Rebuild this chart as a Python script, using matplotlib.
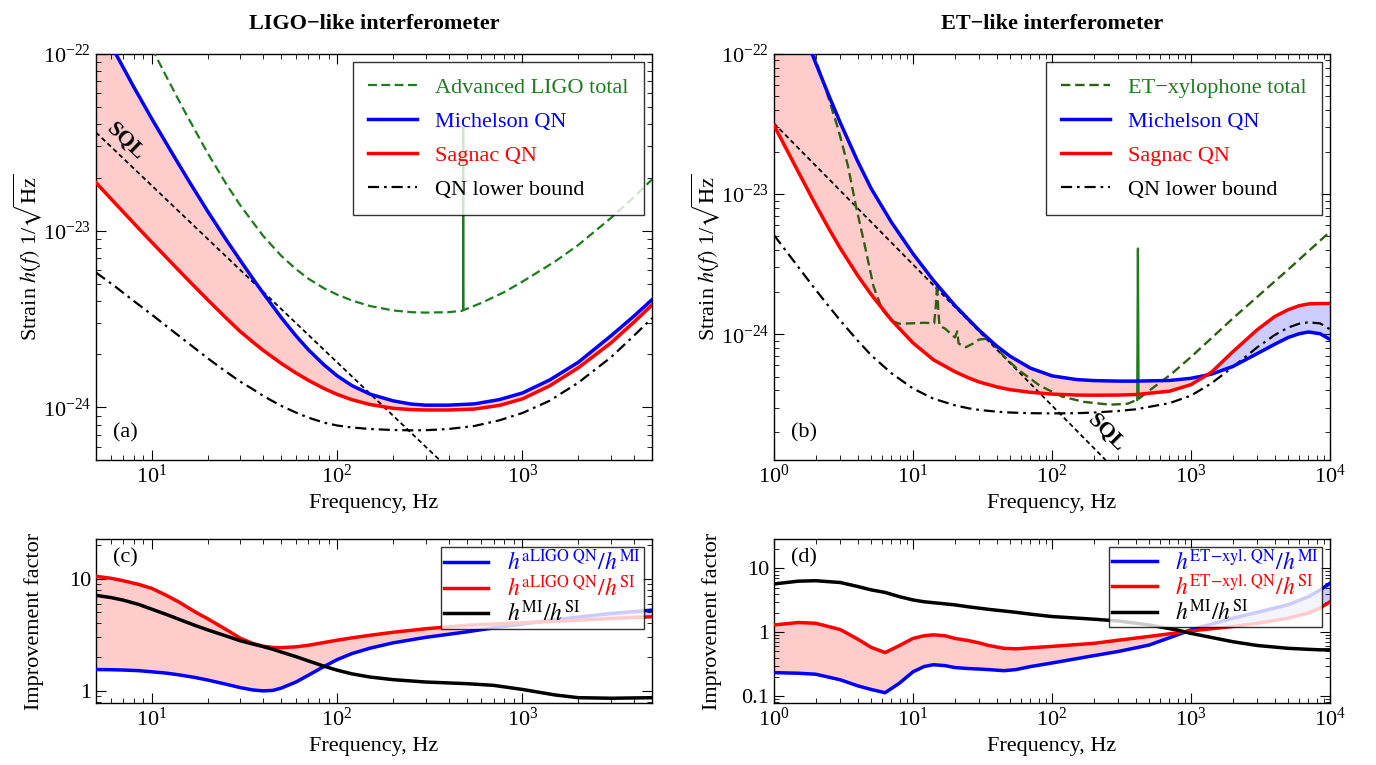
import numpy as np
import matplotlib
matplotlib.use('Agg')
import matplotlib.pyplot as plt
from matplotlib.ticker import LogLocator, NullFormatter, FixedLocator, FixedFormatter

plt.rcParams['font.family'] = ['Liberation Serif', 'DejaVu Serif']
plt.rcParams['mathtext.fontset'] = 'stix'
plt.rcParams['font.size'] = 16

# ---------------- Panel (a): LIGO-like ----------------
freq_a = [5, 6.4, 8, 10, 13, 16, 20, 25, 30, 35, 40, 50, 60, 70, 85, 100, 120, 150, 200, 250,
          300, 400, 550, 750, 1000, 1400, 2000, 3000, 4000, 5000]
mich_a = [1.56e-22, 1.0e-22, 6.5e-23, 4.3e-23, 2.7e-23, 1.88e-23, 1.29e-23, 9.0e-24, 6.8e-24,
          5.38e-24, 4.42e-24, 3.22e-24, 2.54e-24, 2.12e-24, 1.74e-24, 1.51e-24, 1.33e-24,
          1.19e-24, 1.09e-24, 1.045e-24, 1.03e-24, 1.03e-24, 1.047e-24, 1.107e-24, 1.207e-24,
          1.428e-24, 1.80e-24, 2.54e-24, 3.29e-24, 4.07e-24]
sagn_a = [1.87e-23, 1.415e-23, 1.102e-23, 8.6e-24, 6.46e-24, 5.16e-24, 4.07e-24, 3.23e-24,
          2.69e-24, 2.35e-24, 2.10e-24, 1.772e-24, 1.565e-24, 1.423e-24, 1.279e-24, 1.185e-24,
          1.106e-24, 1.039e-24, 0.989e-24, 0.972e-24, 0.967e-24, 0.967e-24, 0.979e-24,
          1.026e-24, 1.118e-24, 1.323e-24, 1.674e-24, 2.315e-24, 3.04e-24, 3.8e-24]
bound_a = [5.8e-24, 4.8e-24, 4.0e-24, 3.35e-24, 2.7e-24, 2.28e-24, 1.9e-24, 1.6e-24, 1.4e-24,
           1.27e-24, 1.16e-24, 1.02e-24, 9.35e-25, 8.75e-25, 8.2e-25, 7.9e-25, 7.7e-25, 7.55e-25,
           7.45e-25, 7.42e-25, 7.43e-25, 7.55e-25, 7.85e-25, 8.45e-25, 9.3e-25, 1.09e-24,
           1.38e-24, 1.92e-24, 2.55e-24, 3.2e-24]
aligo_f = [10, 12, 15, 20, 25, 30, 40, 50, 60, 70, 85, 100, 120, 150, 200, 250, 300, 400, 470,
           600, 800, 1000, 1500, 2000, 3000, 4000, 5000]
aligo_h = [1.08e-22, 7.43e-23, 4.76e-23, 2.755e-23, 1.865e-23, 1.393e-23, 9.31e-24, 7.2e-24,
           6.06e-24, 5.35e-24, 4.72e-24, 4.35e-24, 4.03e-24, 3.75e-24, 3.54e-24, 3.46e-24,
           3.44e-24, 3.46e-24, 3.52e-24, 3.9e-24, 4.5e-24, 5.15e-24, 6.7e-24, 8.3e-24, 1.18e-23,
           1.55e-23, 1.95e-23]
aligo_spike_f = [478, 480, 482]
aligo_spike_h = [3.55e-24, 3.9e-23, 3.6e-24]
sql_a_f = [5, 360]
sql_a_h = [3.6e-23, 5.0e-25]

# ---------------- Panel (b): ET-like ----------------
freq_b = [1, 1.5, 1.88, 2, 2.5, 3, 4, 5, 7, 10, 14, 20, 25, 30, 40, 50, 70, 100, 150, 200, 300,
          400, 700, 1000, 1400, 2000, 3000, 4000, 5000, 6000, 7000, 8500, 10000]
mich_b = [4.3e-22, 1.7e-22, 1.0e-22, 8.57e-23, 4.96e-23, 3.23e-23, 1.716e-23, 1.098e-23, 6.3e-24,
          3.76e-24, 2.43e-24, 1.61e-24, 1.282e-24, 1.068e-24, 8.25e-25, 6.98e-25, 5.74e-25,
          5.06e-25, 4.76e-25, 4.68e-25, 4.64e-25, 4.64e-25, 4.69e-25, 4.86e-25, 5.2e-25,
          5.9e-25, 7.3e-25, 8.5e-25, 9.5e-25, 1.01e-24, 1.04e-24, 1.01e-24, 9.2e-25]
sagn_b = [3.1e-23, 1.434e-23, 9.38e-24, 8.37e-24, 5.6e-24, 4.11e-24, 2.63e-24, 1.926e-24,
          1.264e-24, 8.69e-25, 6.59e-25, 5.42e-25, 4.9e-25, 4.57e-25, 4.22e-25, 4.03e-25,
          3.86e-25, 3.75e-25, 3.69e-25, 3.68e-25, 3.69e-25, 3.72e-25, 3.93e-25, 4.38e-25,
          5.36e-25, 7.52e-25, 1.08e-24, 1.34e-24, 1.5e-24, 1.6e-24, 1.65e-24, 1.66e-24, 1.66e-24]
bound_b = [5.1e-24, 3.01e-24, 2.244e-24, 2.073e-24, 1.568e-24, 1.255e-24, 9.02e-25, 7.1e-25,
           5.28e-25, 4.11e-25, 3.48e-25, 3.12e-25, 2.97e-25, 2.89e-25, 2.81e-25, 2.77e-25,
           2.74e-25, 2.73e-25, 2.74e-25, 2.77e-25, 2.84e-25, 2.92e-25, 3.23e-25, 3.66e-25,
           4.47e-25, 5.85e-25, 8.09e-25, 9.89e-25, 1.118e-24, 1.192e-24, 1.22e-24, 1.197e-24,
           1.086e-24]
et_f = [1.9, 2.4, 2.9, 3.4, 3.9, 4.5, 5.2, 6.0, 7.0, 8, 10, 12, 14.2, 14.6, 14.9, 15.2, 15.5,
        17, 20, 20.8, 21.3, 24, 27, 30, 34, 38, 45, 57, 82, 118, 169, 262, 350, 405, 425, 540,
        720, 1000, 2000, 5000, 10000]
et_h = [1.05e-22, 5.3e-23, 2.9e-23, 1.6e-23, 8.1e-24, 4.3e-24, 2.2e-24, 1.5e-24, 1.25e-24,
        1.19e-24, 1.2e-24, 1.21e-24, 1.2e-24, 1.6e-24, 2.3e-24, 1.5e-24, 1.15e-24, 1.1e-24,
        9.5e-25, 1.05e-24, 8.6e-25, 8.1e-25, 8.6e-25, 9.2e-25, 9.3e-25, 8.5e-25, 7.0e-25, 5.6e-25,
        4.3e-25, 3.6e-25, 3.3e-25, 3.15e-25, 3.2e-25, 3.4e-25, 3.5e-25, 4.2e-25, 5.2e-25, 6.9e-25,
        1.3e-24, 2.9e-24, 5.4e-24]
et_spike_f = [410, 415, 420]
et_spike_h = [3.4e-25, 4.1e-24, 3.5e-25]
sql_b_f = [1, 243]
sql_b_h = [3.2e-23, 1.27e-25]

# ---------------- Panel (c) ----------------
freq_c = [5, 6, 7, 8.5, 10, 12, 14, 17, 20, 25, 30, 35, 40, 45, 50, 60, 70, 85, 100, 120, 150,
          200, 300, 500, 700, 1000, 1500, 2000, 3000, 5000]
ratio_mi_c = [1.55, 1.545, 1.535, 1.515, 1.48, 1.44, 1.39, 1.32, 1.25, 1.15, 1.07, 1.02, 1.0,
              1.01, 1.06, 1.2, 1.38, 1.65, 1.9, 2.15, 2.4, 2.68, 3.0, 3.36, 3.65, 3.95, 4.3,
              4.55, 4.9, 5.25]
ratio_si_c = [10.5, 10.1, 9.6, 8.9, 8.2, 7.1, 6.2, 5.1, 4.4, 3.55, 2.95, 2.65, 2.5, 2.44, 2.43,
              2.47, 2.55, 2.7, 2.83, 2.97, 3.13, 3.33, 3.58, 3.84, 3.95, 4.05, 4.17, 4.27, 4.42,
              4.58]
ratio_misi_c = [7.1, 6.8, 6.45, 5.9, 5.35, 4.8, 4.35, 3.85, 3.5, 3.1, 2.8, 2.62, 2.48, 2.35,
                2.22, 2.02, 1.85, 1.66, 1.53, 1.42, 1.33, 1.26, 1.2, 1.16, 1.12, 1.03, 0.92,
                0.87, 0.86, 0.87]

# ---------------- Panel (d) ----------------
freq_d = [1, 1.5, 2, 3, 4, 5, 6.3, 8, 10, 12, 14, 17, 20, 25, 30, 35, 45, 55, 70, 100, 200,
          300, 500, 800, 1000, 2000, 3000, 5000, 7000, 8500, 10000]
ratio_mi_d = [0.233, 0.228, 0.22, 0.18, 0.145, 0.127, 0.113, 0.16, 0.24, 0.29, 0.31, 0.30, 0.28,
              0.27, 0.265, 0.26, 0.25, 0.26, 0.29, 0.33, 0.43, 0.5, 0.63, 0.91, 1.09, 1.66, 2.05,
              2.7, 3.6, 4.6, 5.85]
ratio_si_d = [1.30, 1.42, 1.38, 1.1, 0.78, 0.58, 0.48, 0.62, 0.8, 0.88, 0.91, 0.88, 0.8, 0.74,
              0.68, 0.62, 0.56, 0.55, 0.57, 0.6, 0.67, 0.75, 0.86, 0.98, 1.05, 1.23, 1.38, 1.66,
              2.0, 2.4, 3.0]
ratio_misi_d = [5.7, 6.3, 6.4, 6.0, 5.2, 4.6, 4.2, 3.6, 3.2, 3.0, 2.9, 2.78, 2.68, 2.5, 2.38,
                2.28, 2.15, 2.05, 1.92, 1.76, 1.6, 1.5, 1.3, 1.08, 0.96, 0.71, 0.62, 0.56, 0.54,
                0.53, 0.53]

MINUS = '\u2212'
BLUE = '#0000ff'
RED = '#ff0000'
GREEN = '#1e7b1e'
GREEN_ET = '#2f5f12'
PINK = '#ffcccc'
LAV = '#ccccff'

W, H = 1376, 765
fig = plt.figure(figsize=(W / 100, H / 100), dpi=100)


def ax_at(x0, y0, x1, y1):
    return fig.add_axes([x0 / W, 1 - y1 / H, (x1 - x0) / W, (y1 - y0) / H])


def style(ax):
    ax.set_xscale('log')
    ax.set_yscale('log')
    ax.tick_params(which='both', direction='in', top=True, right=True, labelsize=16)
    ax.tick_params(which='major', length=7, width=0.8)
    ax.tick_params(which='minor', length=3.5, width=0.6)
    for s in ax.spines.values():
        s.set_linewidth(1.0)


def legend(ax, colors, fs=16, **kw):
    leg = ax.legend(loc='upper right', fancybox=False, framealpha=0.8, edgecolor='black',
                    labelcolor=colors, fontsize=fs, borderaxespad=0.35, **kw)
    leg.get_frame().set_linewidth(1.0)
    return leg


ax_a = ax_at(96, 54, 652, 460)
ax_b = ax_at(774, 54, 1330, 460)
ax_c = ax_at(96, 539, 652, 703)
ax_d = ax_at(774, 539, 1330, 703)

DASH = (0, (4, 2))
DASHDOT = (0, (5, 2.2, 1.2, 2.2))
SQLDASH = (0, (2.6, 1.8))
YLAB_X = -0.094

# ---- (a)
ax = ax_a
style(ax)
fa = np.array(freq_a); ma = np.array(mich_a); sa = np.array(sagn_a)
ax.fill_between(fa, sa, ma, where=ma >= sa, interpolate=True, color=PINK, lw=0, zorder=1)
ax.plot(sql_a_f, sql_a_h, color='black', lw=1.3, ls=SQLDASH, zorder=2)
ax.plot(aligo_spike_f, aligo_spike_h, color=GREEN, lw=1.3, zorder=2)
ax.plot(aligo_f, aligo_h, color=GREEN, lw=1.6, ls=DASH, label='Advanced LIGO total', zorder=3)
ax.plot(fa, ma, color=BLUE, lw=2.5, label='Michelson QN', zorder=4)
ax.plot(fa, sa, color=RED, lw=2.5, label='Sagnac QN', zorder=4)
ax.plot(fa, bound_a, color='black', lw=1.6, ls=DASHDOT, label='QN lower bound', zorder=3)
ax.set_xlim(5, 5000)
ax.set_ylim(5.04e-25, 1e-22)
ax.text(7.2, 3.2e-23, 'SQL', rotation=-44, ha='center', va='center', fontsize=16,
        fontweight='bold')
ax.text(0.052, 0.066, '(a)', transform=ax.transAxes, ha='center', va='center', fontsize=16)
ax.set_xlabel('Frequency, Hz', fontsize=16)
ax.set_ylabel(r'Strain $h(f)$ 1/$\sqrt{\rm Hz}$', fontsize=16)
ax.yaxis.set_label_coords(YLAB_X, 0.5)
ax.set_title('LIGO' + MINUS + 'like interferometer', fontweight='bold', fontsize=16, pad=18)
legend(ax, [GREEN, BLUE, RED, 'black'], handlelength=2.2, labelspacing=0.6, borderpad=0.7)

# ---- (b)
ax = ax_b
style(ax)
fb = np.array(freq_b); mb = np.array(mich_b); sb = np.array(sagn_b)
ax.fill_between(fb, sb, mb, where=mb >= sb, interpolate=True, color=PINK, lw=0, zorder=1)
ax.fill_between(fb, sb, mb, where=mb < sb, interpolate=True, color=LAV, lw=0, zorder=1)
ax.plot(sql_b_f, sql_b_h, color='black', lw=1.3, ls=SQLDASH, zorder=2)
ax.plot(et_spike_f, et_spike_h, color=GREEN, lw=1.6, zorder=2)
ax.plot(et_f, et_h, color=GREEN_ET, lw=1.7, ls=DASH, label='ET' + MINUS + 'xylophone total',
        zorder=3)
ax.plot(fb, mb, color=BLUE, lw=2.5, label='Michelson QN', zorder=4)
ax.plot(fb, sb, color=RED, lw=2.5, label='Sagnac QN', zorder=4)
ax.plot(fb, bound_b, color='black', lw=1.6, ls=DASHDOT, label='QN lower bound', zorder=3)
ax.set_xlim(1, 1e4)
ax.set_ylim(1.27e-25, 1e-22)
ax.text(245, 1.97e-25, 'SQL', rotation=-45, ha='center', va='center', fontsize=16,
        fontweight='bold')
ax.text(0.054, 0.066, '(b)', transform=ax.transAxes, ha='center', va='center', fontsize=16)
ax.set_xlabel('Frequency, Hz', fontsize=16)
ax.set_ylabel(r'Strain $h(f)$ 1/$\sqrt{\rm Hz}$', fontsize=16)
ax.yaxis.set_label_coords(YLAB_X, 0.5)
ax.set_title('ET' + MINUS + 'like interferometer', fontweight='bold', fontsize=16, pad=18)
legend(ax, [GREEN, BLUE, RED, 'black'], handlelength=2.2, labelspacing=0.6, borderpad=0.7)

# ---- (c)
ax = ax_c
style(ax)
fc = np.array(freq_c); rmi = np.array(ratio_mi_c); rsi = np.array(ratio_si_c)
ax.fill_between(fc, rmi, rsi, where=rsi >= rmi, interpolate=True, color=PINK, lw=0, zorder=1)
ax.fill_between(fc, rmi, rsi, where=rsi < rmi, interpolate=True, color=LAV, lw=0, zorder=1)
ax.plot(fc, rmi, color=BLUE, lw=2.5, label=r'$h^{\text{aLIGO QN}}/h^{\rm MI}$', zorder=3)
ax.plot(fc, rsi, color=RED, lw=2.5, label=r'$h^{\text{aLIGO QN}}/h^{\rm SI}$', zorder=3)
ax.plot(fc, ratio_misi_c, color='black', lw=2.5, label=r'$h^{\rm MI}/h^{\rm SI}$', zorder=3)
ax.set_xlim(5, 5000)
ax.set_ylim(0.78, 22.6)
ax.yaxis.set_major_locator(FixedLocator([1, 10]))
ax.yaxis.set_major_formatter(FixedFormatter(['1', '10']))
ax.yaxis.set_minor_locator(LogLocator(subs=np.arange(2, 10)))
ax.yaxis.set_minor_formatter(NullFormatter())
ax.text(0.052, 0.884, '(c)', transform=ax.transAxes, ha='center', va='center', fontsize=16)
ax.set_xlabel('Frequency, Hz', fontsize=16)
ax.set_ylabel('Improvement factor', fontsize=16)
ax.yaxis.set_label_coords(YLAB_X, 0.5)
legend(ax, [BLUE, RED, 'black'], fs=17, handlelength=1.9, labelspacing=0.0, borderpad=0.1,
       handletextpad=0.8)

# ---- (d)
ax = ax_d
style(ax)
fd = np.array(freq_d); rmi = np.array(ratio_mi_d); rsi = np.array(ratio_si_d)
ax.fill_between(fd, rmi, rsi, where=rsi >= rmi, interpolate=True, color=PINK, lw=0, zorder=1)
ax.fill_between(fd, rmi, rsi, where=rsi < rmi, interpolate=True, color=LAV, lw=0, zorder=1)
et_sup = r'\text{ET' + MINUS + r'xyl. QN}'
ax.plot(fd, rmi, color=BLUE, lw=2.5, label=r'$h^{' + et_sup + r'}/h^{\rm MI}$', zorder=3)
ax.plot(fd, rsi, color=RED, lw=2.5, label=r'$h^{' + et_sup + r'}/h^{\rm SI}$', zorder=3)
ax.plot(fd, ratio_misi_d, color='black', lw=2.5, label=r'$h^{\rm MI}/h^{\rm SI}$', zorder=3)
ax.set_xlim(1, 1e4)
ax.set_ylim(0.078, 28.8)
ax.yaxis.set_major_locator(FixedLocator([0.1, 1, 10]))
ax.yaxis.set_major_formatter(FixedFormatter(['0.1', '1', '10']))
ax.yaxis.set_minor_locator(LogLocator(subs=np.arange(2, 10)))
ax.yaxis.set_minor_formatter(NullFormatter())
ax.text(0.054, 0.884, '(d)', transform=ax.transAxes, ha='center', va='center', fontsize=16)
ax.set_xlabel('Frequency, Hz', fontsize=16)
ax.set_ylabel('Improvement factor', fontsize=16)
ax.yaxis.set_label_coords(YLAB_X, 0.5)
legend(ax, [BLUE, RED, 'black'], fs=17, handlelength=1.9, labelspacing=0.0, borderpad=0.1,
       handletextpad=0.8)

fig.savefig('out.png', dpi=100)
